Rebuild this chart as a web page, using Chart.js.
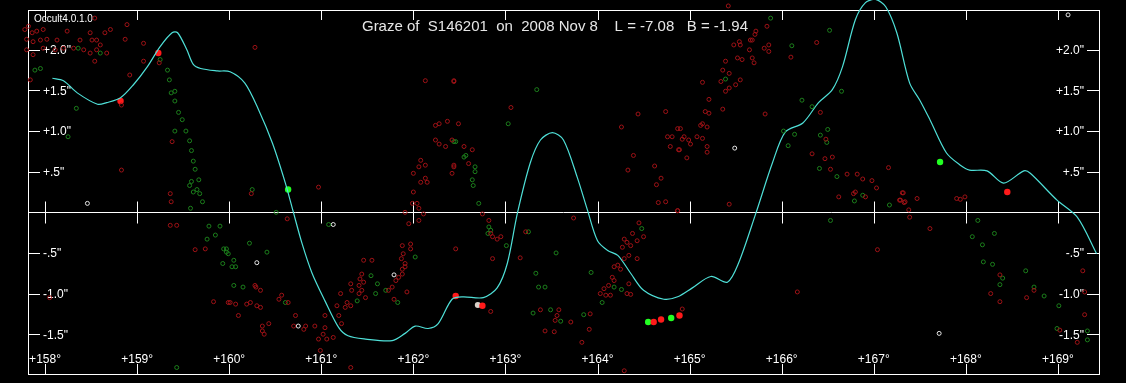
<!DOCTYPE html>
<html>
<head>
<meta charset="utf-8">
<script src="https://cdn.jsdelivr.net/npm/chart.js@4"></script>
<style>
  html, body { margin: 0; padding: 0; background: #000; }
  canvas { display: block; }
</style>
</head>
<body>
<canvas id="grazeChart" width="1126" height="383"></canvas>
<script>
// axis values (degrees of position angle / arcsec)
var xTicks = [158, 159, 160, 161, 162, 163, 164, 165, 166, 167, 168, 169];
var xTickLabels = ['+158°', '+159°', '+160°', '+161°', '+162°', '+163°', '+164°', '+165°', '+166°', '+167°', '+168°', '+169°'];
var yTicks = [2.0, 1.5, 1.0, 0.5, -0.5, -1.0, -1.5];
var yTickLabels = ['+2.0"', '+1.5"', '+1.0"', '+.5"', '-.5"', '-1.0"', '-1.5"'];

var titleText = 'Graze of  S146201  on  2008 Nov 8    L = -7.08   B = -1.94';
var versionText = 'Occult4.0.1.0';

// lunar limb profile
var limbX = [158.08, 158.20, 158.35, 158.57, 158.67, 158.82, 158.96, 159.11, 159.25, 159.38, 159.44, 159.54, 159.61, 159.69, 159.87, 160.01,
  160.17, 160.32, 160.47, 160.61, 160.69, 160.79, 160.90, 161.04, 161.19, 161.29, 161.48, 161.77, 161.91, 162.02, 162.16, 162.27,
  162.42, 162.54, 162.76, 162.91, 163.02, 163.13, 163.27, 163.38, 163.51, 163.63, 163.78, 163.89, 164.00, 164.11, 164.22, 164.36,
  164.50, 164.72, 164.87, 165.03, 165.23, 165.41, 165.53, 165.72, 165.90, 166.04, 166.23, 166.40, 166.55, 166.66, 166.80, 166.91,
  167.02, 167.13, 167.25, 167.39, 167.50, 167.61, 167.79, 167.94, 168.04, 168.23, 168.41, 168.63, 168.70, 168.99, 169.21, 169.42];
var limbY = [1.65, 1.62, 1.47, 1.33, 1.35, 1.41, 1.57, 1.79, 2.04, 2.21, 2.21, 2.00, 1.82, 1.77, 1.74, 1.73,
  1.59, 1.26, 0.85, 0.36, 0.03, -0.38, -0.75, -1.09, -1.42, -1.52, -1.56, -1.58, -1.49, -1.40, -1.43, -1.37,
  -1.07, -1.04, -1.05, -0.93, -0.63, -0.01, 0.61, 0.89, 0.98, 0.89, 0.43, 0.03, -0.35, -0.47, -0.53, -0.75,
  -0.96, -1.07, -1.04, -0.93, -0.79, -0.86, -0.63, -0.01, 0.61, 0.99, 1.10, 1.35, 1.51, 1.79, 2.37, 2.58,
  2.62, 2.53, 2.21, 1.59, 1.38, 1.14, 0.73, 0.58, 0.52, 0.51, 0.36, 0.51, 0.48, 0.15, -0.06, -0.51];

// disappearances (red) observed earlier
var redX = [157.60, 157.69, 157.73, 157.78, 157.82, 157.76, 157.86, 157.91, 157.98, 157.58, 157.80, 157.87, 157.95, 158.02, 158.13, 158.24,
  158.38, 158.49, 158.51, 158.56, 158.65, 158.71, 158.89, 158.87, 158.54, 157.80, 157.87, 157.98, 158.11, 158.20, 158.31, 158.42,
  158.49, 158.56, 158.60, 158.67, 158.54, 159.07, 159.07, 158.92, 157.51, 157.55, 157.69, 157.76, 157.73, 157.58, 157.76, 157.66,
  157.51, 157.84, 157.75, 159.24, 158.83, 159.38, 159.36, 159.37, 158.83, 159.36, 159.43, 159.63, 159.74, 159.83, 159.99, 157.76,
  158.05,
  160.28, 162.13, 162.44, 162.24, 162.28, 162.37, 162.24, 162.28, 162.35, 162.42, 162.44, 162.08, 162.06, 162.13, 162.00, 162.13,
  162.15, 162.08, 162.00, 161.99, 162.04, 162.06, 162.11, 161.91, 161.95, 162.06, 160.97, 160.24, 160.63, 161.88, 161.97, 161.97,
  161.89, 161.87, 161.91, 161.88, 161.88, 161.91, 161.84, 161.81, 161.77, 161.73, 161.79, 161.93, 161.55, 161.46, 161.44, 161.42,
  161.46, 161.41, 161.44, 161.41, 161.48, 161.32, 161.33, 161.21, 161.28, 161.32, 161.26, 161.17, 161.19, 161.22, 161.04, 161.04,
  161.02, 161.06, 160.97, 161.13, 160.99, 161.32, 160.93, 160.83, 160.81, 160.72, 160.70, 160.43, 160.36, 160.36, 160.38, 160.10,
  160.01, 160.07, 160.19, 160.23, 160.30, 160.34, 160.29, 160.34, 160.28, 160.54, 160.64, 160.57,
  162.44, 163.06, 162.49, 162.55, 162.64, 162.60, 162.44, 162.42, 162.75, 162.82, 162.84, 162.86, 162.95, 162.91, 162.46, 162.86,
  163.16, 163.22, 163.74, 164.26, 164.44, 164.74, 164.76, 164.81, 164.79, 164.89, 164.87, 164.39, 164.33, 164.62, 164.69, 164.64,
  164.66, 164.74, 164.87, 164.45, 164.38, 164.29, 164.32, 164.27, 164.36, 164.43, 164.50, 164.29, 164.22, 164.25, 164.18, 164.16,
  164.18, 164.12, 164.07, 164.03, 164.09, 164.14, 164.32, 164.36, 164.43, 164.34, 164.34, 163.92, 163.91, 163.83, 163.71, 163.58,
  163.56, 163.54, 163.53, 163.38, 163.43, 162.84, 164.29,
  165.42, 165.84, 165.71, 165.68, 165.66, 165.72, 165.54, 165.55, 165.48, 165.81, 165.86, 165.86, 165.65, 165.52, 165.57, 165.68,
  165.70, 165.39, 165.36, 165.43, 165.55, 165.50, 165.43, 165.39, 165.34, 165.21, 165.14, 165.17, 165.21, 165.36, 165.82, 165.14,
  165.12, 165.19, 164.90, 164.94, 164.92, 165.01, 164.99, 165.08, 165.14, 165.19, 165.19, 164.88, 164.97, 166.10, 166.38, 166.42,
  166.48, 166.33, 166.47, 166.55, 166.53, 166.71, 166.82, 166.88, 166.98, 167.03, 166.78, 166.80, 166.62, 166.91, 167.16, 167.31,
  167.28, 167.33, 164.87, 165.43, 167.04, 166.17, 164.92,
  167.32, 167.29, 167.34, 167.38, 167.39, 167.47, 167.61, 167.90, 167.99, 167.94, 168.37, 168.27, 168.37, 168.66, 168.74, 169.27,
  169.29, 169.29, 169.02, 169.21];
var redY = [2.35, 2.39, 2.27, 2.25, 2.29, 2.21, 2.21, 2.23, 2.25, 2.14, 2.13, 2.10, 2.12, 2.13, 2.12, 2.23,
  2.12, 2.21, 2.12, 2.12, 2.21, 2.25, 2.31, 2.13, 2.39, 2.00, 1.94, 2.02, 2.00, 2.02, 2.02, 2.00,
  1.96, 2.00, 2.06, 1.96, 1.86, 2.08, 1.86, 1.69, 1.84, 1.75, 1.69, 1.75, 1.90, 1.73, 1.68, 1.47,
  1.49, 1.63, 1.39, 1.84, 1.32, 0.87, 0.23, 0.13, 0.52, -0.16, -0.16, -0.46, -0.45, -1.10, -1.11, -1.56,
  -1.05,
  2.03, 1.62, 1.62, 1.07, 1.09, 1.12, 0.89, 0.84, 0.81, 0.89, 0.56, 0.64, 0.56, 0.58, 0.48, 0.42,
  0.37, 0.37, 0.25, 0.11, 0.11, 0.05, -0.02, 0.00, -0.14, -0.10, 0.31, 0.23, -0.08, -0.41, -0.39, -0.45,
  -0.51, -0.57, -0.63, -0.70, -0.76, -0.67, -0.80, -0.84, -0.92, -0.96, -1.07, -0.98, -0.59, -0.59, -0.76, -0.82,
  -0.86, -0.90, -0.96, -1.00, -1.05, -0.88, -0.96, -1.00, -1.11, -1.15, -1.17, -1.15, -1.27, -1.37, -1.27, -1.42,
  -1.50, -1.56, -1.56, -1.54, -1.70, -1.91, -1.40, -1.40, -1.44, -1.27, -1.40, -1.37, -1.40, -1.46, -1.50, -1.27,
  -1.11, -1.13, -1.13, -1.11, -1.15, -1.17, -0.92, -0.96, -0.90, -1.07, -1.11, -1.02,
  1.61, 1.29, 1.09, 0.81, 0.77, 0.60, 0.58, 0.48, -0.02, -0.10, -0.26, -0.30, -0.30, -0.33, -0.45, -0.57,
  -0.56, -0.24, -0.07, 1.05, 1.21, 1.24, 0.93, 0.93, 0.81, 0.77, 1.03, 0.70, 0.52, 0.57, 0.42, 0.34,
  0.12, 0.13, 0.02, -0.13, -0.26, -0.33, -0.37, -0.43, -0.41, -0.35, -0.30, -0.57, -0.65, -0.70, -0.67, -0.80,
  -0.84, -0.90, -0.94, -1.00, -1.02, -1.02, -1.00, -1.01, -0.57, -0.53, -0.88, -1.25, -1.44, -1.60, -1.35, -1.20,
  -1.27, -1.33, -1.47, -1.20, -1.46, -1.22, -1.95,
  2.54, 2.29, 2.19, 2.12, 2.12, 2.23, 2.10, 2.06, 2.06, 2.02, 2.06, 1.98, 2.00, 1.90, 1.88, 1.90,
  1.84, 1.86, 1.75, 1.71, 1.63, 1.57, 1.53, 1.49, 1.61, 1.39, 1.60, 1.24, 1.22, 1.27, 1.21, 1.09,
  1.07, 1.05, 1.03, 0.93, 0.90, 0.84, 0.89, 0.93, 0.91, 0.81, 0.74, 0.77, 0.67, 1.91, 2.09, 1.23,
  0.90, 0.72, 0.66, 0.68, 0.53, 0.47, 0.47, 0.41, 0.39, 0.30, 0.23, 0.25, 0.19, 0.19, 0.55, 0.24,
  0.15, 0.12, 0.02, 0.10, -0.46, -0.98, -1.19,
  0.24, 0.15, 0.13, 0.03, -0.06, 0.17, -0.20, 0.17, 0.19, 0.16, -0.77, -1.00, -1.10, -1.05, -0.96, -0.72,
  -0.98, -1.26, -1.45, -1.60];

// reappearances (green)
var greenX = [157.95, 157.89, 157.62, 157.55, 157.66, 157.67, 158.34, 158.25, 158.36, 158.60, 159.25, 159.33, 159.35, 159.41, 159.37, 159.41,
  159.45, 159.49, 159.41, 159.53, 159.57, 159.59, 159.61, 159.63, 159.59, 159.67, 159.57, 159.61, 159.65, 159.68, 159.71, 159.58,
  159.78, 159.90, 159.76, 159.85, 159.94, 159.97, 159.93, 159.43,
  160.25, 160.51, 161.08, 160.22, 160.41, 159.97, 159.99, 160.05, 160.03, 160.07, 160.05, 160.15, 160.61, 161.39, 161.61, 161.59,
  161.70, 161.83, 162.02, 161.54, 162.44,
  163.34, 163.03, 162.46, 162.55, 162.57, 162.67, 162.67, 162.64, 162.65, 162.71, 162.82, 162.81, 162.84, 163.01, 163.25, 163.55,
  163.33, 163.36, 163.43, 163.30, 163.49, 163.60, 163.85, 163.93, 164.05, 164.18, 164.26, 164.48,
  165.88, 166.11, 166.52, 165.39, 166.22, 166.33, 166.65, 166.02, 166.14, 166.50, 166.42, 166.49, 166.07, 166.41, 166.60, 166.79,
  166.88, 167.17, 166.53,
  168.13, 168.07, 168.31, 168.18, 168.19, 168.29, 168.40, 168.37, 168.65, 168.74, 168.85, 169.01, 168.99, 169.32, 169.32];
var greenY = [1.77, 1.75, 1.79, 1.61, 1.61, 1.51, 1.28, 0.93, 2.02, 1.96, 1.88, 1.75, 1.63, 1.49, 1.47, 1.37,
  1.23, 1.14, 1.00, 1.00, 0.88, 0.76, 0.63, 0.53, 0.38, 0.40, 0.33, 0.25, 0.28, 0.23, 0.13, 0.05,
  -0.17, -0.17, -0.33, -0.28, -0.45, -0.49, -0.63, -1.91,
  0.28, 0.00, -0.15, -0.38, -0.49, -0.45, -0.51, -0.59, -0.67, -0.67, -0.90, -0.92, -1.11, -1.09, -0.88, -1.00,
  -0.96, -1.11, -0.55, -0.78, 0.87,
  1.51, 1.09, 0.87, 0.68, 0.70, 0.56, 0.50, 0.40, 0.33, 0.11, -0.18, -0.26, -0.22, -0.41, -0.24, -0.50,
  -0.75, -0.92, -0.92, -1.24, -1.20, -1.34, -1.26, -0.74, -1.11, -0.92, -0.95, -0.20,
  2.39, 2.05, 2.24, 1.64, 1.38, 1.30, 1.49, 1.00, 0.96, 1.02, 0.95, 0.86, 0.82, 0.54, 0.44, 0.14,
  0.21, 0.09, -0.10,
  -0.10, -0.30, -0.26, -0.40, -0.61, -0.64, -0.81, -0.89, -0.72, -0.92, -1.03, -1.15, -1.43, -1.46, -1.57];

// misses / other observers (white)
var whiteX = [157.65, 158.46, 160.30, 161.13, 161.79, 160.75, 165.49, 169.11, 167.71];
var whiteY = [2.12, 0.11, -0.62, -0.15, -0.77, -1.40, 0.79, 2.43, -1.49];

// this event's timings (bright markers)
var eventRedX = [159.23, 158.82, 162.46, 162.75, 164.61, 164.69, 164.89, 168.45];
var eventRedY = [1.96, 1.37, -1.03, -1.15, -1.35, -1.32, -1.27, 0.25];
var eventGreenX = [160.64, 164.55, 164.80, 167.72];
var eventGreenY = [0.28, -1.35, -1.30, 0.62];
var eventGreyX = [162.70];
var eventGreyY = [-1.14];

function toPoints(xs, ys) {
  var pts = [];
  for (var i = 0; i < xs.length; i++) pts.push({ x: xs[i], y: ys[i] });
  return pts;
}

var frame = {
  id: 'frame',
  beforeDraw: function (chart) {
    var ctx = chart.ctx;
    ctx.save();
    ctx.fillStyle = '#000';
    ctx.fillRect(0, 0, chart.width, chart.height);
    ctx.restore();
  },
  beforeDatasetsDraw: function (chart) {
    var ctx = chart.ctx, a = chart.chartArea;
    var xs = chart.scales.x, ys = chart.scales.y;
    var y0 = Math.round(ys.getPixelForValue(0)) + 0.5;
    ctx.save();
    ctx.strokeStyle = '#ffffff';
    ctx.lineWidth = 1;
    ctx.strokeRect(a.left + 0.5, a.top + 0.5, a.right - a.left, a.bottom - a.top);
    ctx.beginPath();
    ctx.moveTo(a.left, y0);
    ctx.lineTo(a.right, y0);
    xTicks.forEach(function (v) {
      var px = Math.round(xs.getPixelForValue(v)) + 0.5;
      ctx.moveTo(px, a.top); ctx.lineTo(px, a.top + 10);
      ctx.moveTo(px, a.bottom); ctx.lineTo(px, a.bottom - 10);
      ctx.moveTo(px, y0 - 11); ctx.lineTo(px, y0 + 11);
    });
    yTicks.forEach(function (v) {
      var py = Math.round(ys.getPixelForValue(v)) + 0.5;
      ctx.moveTo(a.left, py); ctx.lineTo(a.left + 12, py);
      ctx.moveTo(a.right, py); ctx.lineTo(a.right - 12, py);
    });
    ctx.stroke();

    ctx.fillStyle = '#ffffff';
    ctx.font = '12px "Liberation Sans", Arial, sans-serif';
    ctx.textBaseline = 'middle';
    yTicks.forEach(function (v, i) {
      var py = ys.getPixelForValue(v);
      ctx.textAlign = 'left';
      ctx.fillText(yTickLabels[i], a.left + 15, py + 1);
      ctx.textAlign = 'right';
      ctx.fillText(yTickLabels[i], a.right - 15, py + 1);
    });
    ctx.textAlign = 'center';
    ctx.textBaseline = 'alphabetic';
    xTicks.forEach(function (v, i) {
      ctx.fillText(xTickLabels[i], xs.getPixelForValue(v), a.bottom - 11);
    });
    ctx.font = '10px "Liberation Sans", Arial, sans-serif';
    ctx.textAlign = 'left';
    ctx.fillText(versionText, a.left + 6, a.top + 12);
    ctx.fillStyle = '#e6e6e6';
    ctx.font = '15px "Liberation Sans", Arial, sans-serif';
    ctx.textAlign = 'center';
    ctx.fillText(titleText, 555, a.top + 21);
    ctx.restore();
  }
};

var grazeChart = new Chart(document.getElementById('grazeChart'), {
  type: 'scatter',
  data: {
    datasets: [
      {
        label: 'D',
        data: toPoints(redX, redY),
        pointRadius: 2,
        borderWidth: 1,
        borderColor: '#9e1216',
        backgroundColor: 'rgba(0,0,0,0)',
        clip: false
      },
      {
        label: 'R',
        data: toPoints(greenX, greenY),
        pointRadius: 2,
        borderWidth: 1,
        borderColor: '#1c7f1c',
        backgroundColor: 'rgba(0,0,0,0)',
        clip: false
      },
      {
        label: 'Miss',
        data: toPoints(whiteX, whiteY),
        pointRadius: 2,
        borderWidth: 1,
        borderColor: '#e8e8e8',
        backgroundColor: 'rgba(0,0,0,0)',
        clip: false
      },
      {
        label: 'Limb',
        type: 'line',
        data: toPoints(limbX, limbY),
        borderColor: '#4fe0d8',
        borderWidth: 1.2,
        pointRadius: 0,
        tension: 0.3,
        fill: false,
        clip: false
      },
      {
        label: 'Event D',
        data: toPoints(eventRedX, eventRedY),
        pointRadius: 3.2,
        borderWidth: 0,
        backgroundColor: '#ff1a1a',
        clip: false
      },
      {
        label: 'Event R',
        data: toPoints(eventGreenX, eventGreenY),
        pointRadius: 3.2,
        borderWidth: 0,
        backgroundColor: '#22ff22',
        clip: false
      },
      {
        label: 'Event other',
        data: toPoints(eventGreyX, eventGreyY),
        pointRadius: 3,
        borderWidth: 0,
        backgroundColor: '#d8d0c8',
        clip: false
      }
    ]
  },
  options: {
    responsive: false,
    animation: false,
    layout: { padding: { left: 28, right: 27, top: 10, bottom: 9 } },
    plugins: {
      legend: { display: false },
      tooltip: { enabled: false }
    },
    scales: {
      x: { type: 'linear', display: false, min: 157.815, max: 169.446 },
      y: { type: 'linear', display: false, min: -1.99, max: 2.49 }
    }
  },
  plugins: [frame]
});
</script>
</body>
</html>
